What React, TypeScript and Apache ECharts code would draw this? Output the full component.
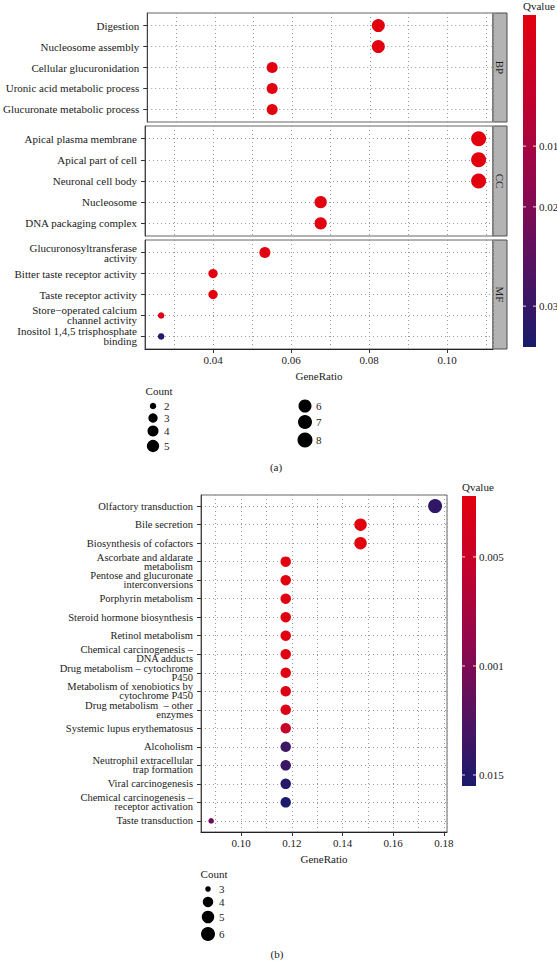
import React, { useEffect, useRef } from 'react';
import * as echarts from 'echarts';

// ---------- DATA ----------
const bpTerms = ['Digestion', 'Nucleosome assembly', 'Cellular glucuronidation', 'Uronic acid metabolic process', 'Glucuronate metabolic process'];
const bpRatio = [0.0822, 0.0822, 0.0548, 0.0548, 0.0548];
const bpCount = [6, 6, 4, 4, 4];
const bpQ = [0.005, 0.005, 0.005, 0.005, 0.005];

const ccTerms = ['Apical plasma membrane', 'Apical part of cell', 'Neuronal cell body', 'Nucleosome', 'DNA packaging complex'];
const ccRatio = [0.1081, 0.1081, 0.1081, 0.0676, 0.0676];
const ccCount = [8, 8, 8, 5, 5];
const ccQ = [0.005, 0.005, 0.005, 0.005, 0.005];

const mfTerms = ['Glucuronosyltransferase\nactivity', 'Bitter taste receptor activity', 'Taste receptor activity', 'Store\u2212operated calcium\nchannel activity', 'Inositol 1,4,5 trisphosphate\nbinding'];
const mfRatio = [0.0533, 0.04, 0.04, 0.0267, 0.0267];
const mfCount = [4, 3, 3, 2, 2];
const mfQ = [0.005, 0.005, 0.005, 0.006, 0.034];

const keggTerms = [
  'Olfactory transduction', 'Bile secretion', 'Biosynthesis of cofactors',
  'Ascorbate and aldarate\nmetabolism', 'Pentose and glucuronate\ninterconversions',
  'Porphyrin metabolism', 'Steroid hormone biosynthesis', 'Retinol metabolism',
  'Chemical carcinogenesis \u2013\nDNA adducts', 'Drug metabolism \u2013 cytochrome\nP450',
  'Metabolism of xenobiotics by\ncytochrome P450', 'Drug metabolism  \u2013 other\nenzymes',
  'Systemic lupus erythematosus', 'Alcoholism', 'Neutrophil extracellular\ntrap formation',
  'Viral carcinogenesis', 'Chemical carcinogenesis \u2013\nreceptor activation', 'Taste transduction',
];
const keggRatio = [0.1765, 0.1471, 0.1471, 0.1176, 0.1176, 0.1176, 0.1176, 0.1176, 0.1176, 0.1176, 0.1176, 0.1176, 0.1176, 0.1176, 0.1176, 0.1176, 0.1176, 0.0882];
const keggCount = [6, 5, 5, 4, 4, 4, 4, 4, 4, 4, 4, 4, 4, 4, 4, 4, 4, 3];
const keggQ = [0.0142, 0.0022, 0.0022, 0.0022, 0.0022, 0.0023, 0.0023, 0.0024, 0.0025, 0.0026, 0.0027, 0.003, 0.0052, 0.0135, 0.0137, 0.0148, 0.0154, 0.0108];

const topXTicks = [0.04, 0.06, 0.08, 0.1];
const botXTicks = [0.1, 0.12, 0.14, 0.16, 0.18];
const topQLabels = ['0.01', '0.02', '0.03'];
const botQLabels = ['0.005', '0.001', '0.015'];
const topCountsCol1 = [2, 3, 4, 5];
const topCountsCol2 = [6, 7, 8];
const botCounts = [3, 4, 5, 6];
const topSizeCounts = [2, 3, 4, 5, 6, 7, 8];
const topSizePx = [6.5, 9.3, 11, 12.3, 13, 14, 15];
const botSizeCounts = [3, 4, 5, 6];
const botSizePx = [5.5, 10.5, 12.5, 14];

// ---------- STYLE / LAYOUT ----------
const SERIF = "'Liberation Serif', 'DejaVu Serif', 'Times New Roman', serif";
const gradColors = ['#e2000e', '#c3022c', '#92084c', '#551260', '#1a1b6b'];
const TOP_Q = [0.005, 0.035];
const BOT_Q = [0.0022, 0.0155];
const TOP_X = [0.02256, 0.11179];
const BOT_X = [0.0842, 0.1812];
const DOT = { color: '#9a9a9a', type: [1, 3] as number[], width: 1 };

const sizeOf = (counts: number[], px: number[], c: number) => {
  const i = counts.indexOf(c);
  return i >= 0 ? px[i] : px[0];
};

function xAxes(gridIndex: number, range: number[], ticks: number[], show: boolean) {
  const a: any = {
    type: 'value', gridIndex, min: range[0], max: range[1], splitNumber: 4,
    axisLine: { show, onZero: false, lineStyle: { color: '#222', width: 1 } },
    axisTick: { show, length: 4, customValues: ticks, lineStyle: { color: '#333' } },
    axisLabel: {
      show, customValues: ticks, margin: 5, fontSize: 11, color: '#222', fontFamily: SERIF,
      formatter: (v: number) => (ticks.some((t) => Math.abs(t - v) < 1e-9) ? v.toFixed(2) : ''),
    },
    splitLine: { show: false },
  };
  if (show) {
    a.name = 'GeneRatio';
    a.nameLocation = 'middle';
    a.nameGap = 21;
    a.nameTextStyle = { fontSize: 11, color: '#222', fontFamily: SERIF };
  }
  const b = {
    type: 'value', gridIndex, min: range[0], max: range[1], splitNumber: 9,
    axisLine: { show: false, onZero: false }, axisTick: { show: false }, axisLabel: { show: false },
    splitLine: { show: true, lineStyle: DOT },
  };
  return [a, b];
}

function yAxis(gridIndex: number, names: string[], fontSize: number, lineHeight: number) {
  const idx = names.map((_, i) => i);
  return {
    type: 'value', gridIndex, inverse: true, min: -0.6, max: names.length - 0.4,
    splitNumber: names.length, minInterval: 1, maxInterval: 1,
    axisLine: { show: true, onZero: false, lineStyle: { color: '#444' } },
    axisTick: { show: true, length: 4, customValues: idx, lineStyle: { color: '#333' } },
    axisLabel: {
      customValues: idx, margin: 8, fontSize, lineHeight, color: '#1a1a1a', fontFamily: SERIF,
      formatter: (v: number) => (Math.abs(v - Math.round(v)) < 1e-6 ? names[Math.round(v)] ?? '' : ''),
    },
    splitLine: { show: true, lineStyle: DOT },
  };
}

function series(gridIndex: number, ratio: number[], q: number[], count: number[], counts: number[], px: number[]) {
  return {
    type: 'scatter', xAxisIndex: gridIndex * 2, yAxisIndex: gridIndex,
    data: ratio.map((r, i) => [r, i, q[i], count[i]]),
    symbolSize: (v: number[]) => sizeOf(counts, px, v[3]),
    itemStyle: { opacity: 1 },
    encode: { x: 0, y: 1 },
  };
}

function txt(x: number, y: number, text: string, align = 'left', size = 11): any {
  return {
    type: 'text', x, y, silent: true,
    style: { text, fill: '#1a1a1a', fontSize: size, fontFamily: SERIF, align, verticalAlign: 'middle' },
  };
}

function colorbar(x: number, y: number, w: number, h: number, labels: string[], fracs: number[]) {
  const els: any[] = [
    {
      type: 'rect', shape: { x, y, width: w, height: h }, silent: true,
      style: {
        fill: { type: 'linear', x: 0, y: 0, x2: 0, y2: 1, colorStops: gradColors.map((c, i) => ({ offset: i / (gradColors.length - 1), color: c })) },
      },
    },
  ];
  labels.forEach((l, i) => {
    const yy = y + fracs[i] * h;
    els.push({ type: 'line', shape: { x1: x, y1: yy, x2: x + 3, y2: yy }, style: { stroke: '#fff', lineWidth: 1, opacity: 0.85 } });
    els.push({ type: 'line', shape: { x1: x + w - 3, y1: yy, x2: x + w, y2: yy }, style: { stroke: '#fff', lineWidth: 1, opacity: 0.85 } });
    els.push(txt(x + w + 3, yy, l));
  });
  return els;
}

function strip(x: number, y: number, h: number, label: string): any[] {
  return [
    { type: 'rect', shape: { x, y, width: 14, height: h }, style: { fill: '#b3b3b3', stroke: '#4d4d4d', lineWidth: 1 } },
    {
      type: 'text', x: x + 7, y: y + h / 2, rotation: -Math.PI / 2,
      style: { text: label, fill: '#1a1a1a', fontSize: 11, fontFamily: SERIF, align: 'center', verticalAlign: 'middle' },
    },
  ];
}

export default function App() {
  const ref = useRef<HTMLDivElement>(null);
  useEffect(() => {
    if (!ref.current) return;
    const chart = echarts.init(ref.current, null, { renderer: 'svg', width: 557, height: 961 });

    const grids = [
      { left: 145, top: 13, width: 348, height: 109 },
      { left: 145, top: 126, width: 348, height: 110 },
      { left: 145, top: 240, width: 348, height: 109 },
      { left: 201, top: 495, width: 246, height: 337 },
    ].map((g) => ({ ...g, show: true, borderColor: '#666', borderWidth: 1, backgroundColor: '#fff' }));

    const graphic: any[] = [];
    graphic.push(...strip(493, 13, 109, 'BP'));
    graphic.push(...strip(493, 126, 110, 'CC'));
    graphic.push(...strip(493, 240, 109, 'MF'));
    graphic.push(txt(523, 6, 'Qvalue'));
    graphic.push(...colorbar(523, 15, 13, 332, topQLabels, [0.395, 0.578, 0.877]));
    graphic.push(txt(462, 487, 'Qvalue'));
    graphic.push(...colorbar(462, 496, 14, 290, botQLabels, [0.21, 0.586, 0.962]));

    // top count legend
    graphic.push(txt(159, 391, 'Count', 'center'));
    const c1y = [406, 418, 431, 446];
    topCountsCol1.forEach((c, i) => {
      graphic.push({ type: 'circle', shape: { cx: 153, cy: c1y[i], r: sizeOf(topSizeCounts, topSizePx, c) / 2 }, style: { fill: '#000' } });
      graphic.push(txt(164, c1y[i], String(c)));
    });
    const c2y = [406, 422, 440];
    topCountsCol2.forEach((c, i) => {
      graphic.push({ type: 'circle', shape: { cx: 305, cy: c2y[i], r: sizeOf(topSizeCounts, topSizePx, c) / 2 }, style: { fill: '#000' } });
      graphic.push(txt(316, c2y[i], String(c)));
    });
    graphic.push(txt(276, 467, '(a)', 'center'));

    // bottom count legend
    graphic.push(txt(214, 874, 'Count', 'center'));
    const b1y = [889, 902, 917, 934];
    botCounts.forEach((c, i) => {
      graphic.push({ type: 'circle', shape: { cx: 208, cy: b1y[i], r: sizeOf(botSizeCounts, botSizePx, c) / 2 }, style: { fill: '#000' } });
      graphic.push(txt(219, b1y[i], String(c)));
    });
    graphic.push(txt(277, 954, '(b)', 'center'));

    const option: any = {
      animation: false,
      backgroundColor: '#fff',
      grid: grids,
      xAxis: [
        ...xAxes(0, TOP_X, topXTicks, false),
        ...xAxes(1, TOP_X, topXTicks, false),
        ...xAxes(2, TOP_X, topXTicks, true),
        ...xAxes(3, BOT_X, botXTicks, true),
      ],
      yAxis: [
        yAxis(0, bpTerms, 11, 10),
        yAxis(1, ccTerms, 11, 10),
        yAxis(2, mfTerms, 11, 10),
        yAxis(3, keggTerms, 10.5, 9),
      ],
      visualMap: [
        { type: 'continuous', show: false, seriesIndex: [0, 1, 2], dimension: 2, min: TOP_Q[0], max: TOP_Q[1], inRange: { color: gradColors } },
        { type: 'continuous', show: false, seriesIndex: [3], dimension: 2, min: BOT_Q[0], max: BOT_Q[1], inRange: { color: gradColors } },
      ],
      series: [
        series(0, bpRatio, bpQ, bpCount, topSizeCounts, topSizePx),
        series(1, ccRatio, ccQ, ccCount, topSizeCounts, topSizePx),
        series(2, mfRatio, mfQ, mfCount, topSizeCounts, topSizePx),
        series(3, keggRatio, keggQ, keggCount, botSizeCounts, botSizePx),
      ],
      graphic,
    };
    chart.setOption(option);
    return () => chart.dispose();
  }, []);
  return <div ref={ref} style={{ position: 'fixed', left: 0, top: 0, width: 557, height: 961, background: '#fff' }} />;
}
